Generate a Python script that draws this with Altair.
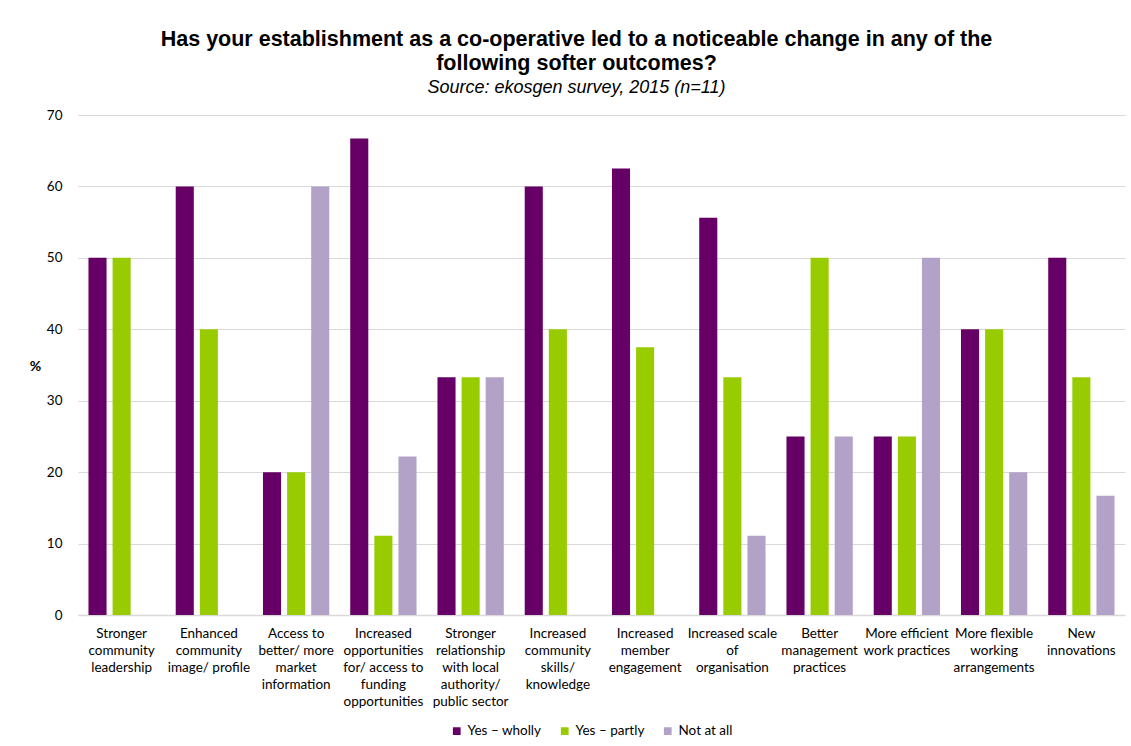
import altair as alt
import pandas as pd

categories = [
    "Stronger\ncommunity\nleadership",
    "Enhanced\ncommunity\nimage/ profile",
    "Access to\nbetter/ more\nmarket\ninformation",
    "Increased\nopportunities\nfor/ access to\nfunding\nopportunities",
    "Stronger\nrelationship\nwith local\nauthority/\npublic sector",
    "Increased\ncommunity\nskills/\nknowledge",
    "Increased\nmember\nengagement",
    "Increased scale\nof\norganisation",
    "Better\nmanagement\npractices",
    "More efficient\nwork practices",
    "More flexible\nworking\narrangements",
    "New\ninnovations",
]
series = ["Yes \u2013 wholly", "Yes \u2013 partly", "Not at all"]
wholly = [50, 60, 20, 66.7, 33.3, 60, 62.5, 55.6, 25, 25, 40, 50]
partly = [50, 40, 20, 11.1, 33.3, 40, 37.5, 33.3, 50, 25, 40, 33.3]
not_at_all = [0, 0, 60, 22.2, 33.3, 0, 0, 11.1, 25, 50, 20, 16.7]
colors = ["#660066", "#99CC00", "#B3A2C7"]

rows = []
for i, c in enumerate(categories):
    for s, vals in zip(series, [wholly, partly, not_at_all]):
        rows.append({"category": c, "series": s, "value": vals[i]})
df = pd.DataFrame(rows)

font = "Lato"

chart = alt.Chart(df).mark_bar().encode(
    x=alt.X("category:N", sort=categories,
            scale=alt.Scale(paddingInner=0.24, paddingOuter=0.12),
            axis=alt.Axis(title=None, labelAngle=0, ticks=False,
                          labelExpr="split(datum.label, '\\n')",
                          labelFont=font, labelFontSize=13.5, labelColor="#000000",
                          labelLineHeight=17, labelPadding=11,
                          domainColor="#d9d9d9", domainWidth=1.5)),
    xOffset=alt.XOffset("series:N", sort=series,
                        scale=alt.Scale(paddingInner=0.25)),
    y=alt.Y("value:Q", scale=alt.Scale(domain=[0, 70]),
            axis=alt.Axis(title="%", titleAngle=0, titleFont=font,
                          titleFontSize=14, titleFontWeight="bold",
                          titleX=-43, titleY=258, titleColor="#000000",
                          values=[0, 10, 20, 30, 40, 50, 60, 70],
                          labelFont=font, labelFontSize=13.5, labelColor="#000000",
                          labelPadding=16,
                          ticks=False, domain=False,
                          gridColor="#d9d9d9")),
    color=alt.Color("series:N", sort=series,
                    scale=alt.Scale(domain=series, range=colors),
                    legend=alt.Legend(title=None, orient="none",
                                      direction="horizontal",
                                      legendX=372, legendY=609,
                                      symbolType="square", symbolSize=60,
                                      symbolStrokeWidth=0,
                                      labelFont=font, labelFontSize=13.5,
                                      labelColor="#000000", columnPadding=16)),
).properties(
    width=1047,
    height=500,
    title=alt.TitleParams(
        text=["Has your establishment as a co-operative led to a noticeable change in any of the",
              "following softer outcomes?"],
        subtitle="Source: ekosgen survey, 2015 (n=11)",
        font="Liberation Sans", fontSize=21.5, fontWeight="bold", color="#000000",
        subtitleFont="Liberation Sans", subtitleFontSize=18,
        subtitleFontStyle="italic", subtitleColor="#000000",
        anchor="middle", dx=-25, offset=11, lineHeight=24, subtitlePadding=5,
    ),
    autosize=alt.AutoSizeParams(type="none"),
    padding={"left": 78, "top": 115, "right": 6, "bottom": 131},
).configure_view(stroke=None)

chart.save("out.html", embed_options={"renderer": "svg", "actions": False})
